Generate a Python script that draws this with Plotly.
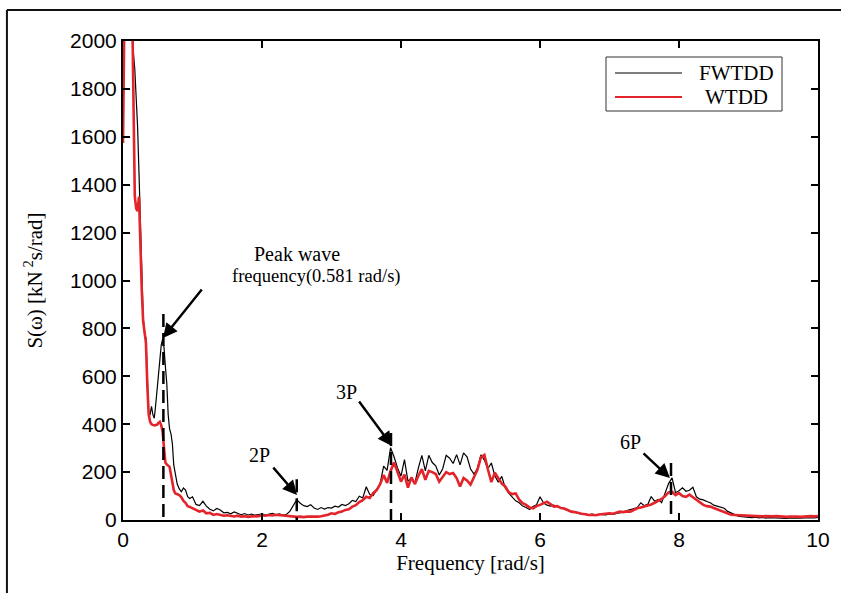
import plotly.graph_objects as go

# Frequency samples [rad/s]
freq = [
    0.00, 0.03, 0.06, 0.10, 0.13, 0.15, 0.17, 0.19, 0.21, 0.23, 0.25, 0.27, 0.29, 0.31, 0.33,
    0.35, 0.37, 0.39, 0.41, 0.43, 0.45, 0.47, 0.49, 0.51, 0.53, 0.55, 0.57, 0.59, 0.61, 0.63,
    0.65, 0.67, 0.69, 0.71, 0.73, 0.75, 0.78, 0.81, 0.84, 0.87, 0.90, 0.93, 0.96, 1.00,
    1.05, 1.10, 1.15, 1.20, 1.25, 1.30, 1.35, 1.40, 1.45, 1.50, 1.55, 1.60, 1.65, 1.70, 1.75, 1.80, 1.85, 1.90, 1.95, 2.00,
    2.05, 2.10, 2.15, 2.20, 2.25, 2.30, 2.35, 2.40, 2.45, 2.50, 2.55, 2.60, 2.65, 2.70, 2.75, 2.80, 2.85, 2.90, 2.95, 3.00,
    3.05, 3.10, 3.15, 3.20, 3.25, 3.30, 3.35, 3.40, 3.45, 3.50, 3.55, 3.60, 3.65, 3.70, 3.75, 3.80, 3.85, 3.90, 3.95, 4.00,
    4.05, 4.10, 4.15, 4.20, 4.25, 4.30, 4.35, 4.40, 4.45, 4.50, 4.55, 4.60, 4.65, 4.70, 4.75, 4.80, 4.85, 4.90, 4.95, 5.00,
    5.05, 5.10, 5.15, 5.20, 5.25, 5.30, 5.35, 5.40, 5.45, 5.50, 5.55, 5.60, 5.65, 5.70, 5.75, 5.80, 5.85, 5.90, 5.95, 6.00,
    6.05, 6.10, 6.15, 6.20, 6.25, 6.30, 6.35, 6.40, 6.45, 6.50, 6.55, 6.60, 6.65, 6.70, 6.75, 6.80, 6.85, 6.90, 6.95, 7.00,
    7.05, 7.10, 7.15, 7.20, 7.25, 7.30, 7.35, 7.40, 7.45, 7.50, 7.55, 7.60, 7.65, 7.70, 7.75, 7.80, 7.85, 7.90, 7.95, 8.00,
    8.05, 8.10, 8.15, 8.20, 8.25, 8.30, 8.35, 8.40, 8.45, 8.50, 8.55, 8.60, 8.65, 8.70, 8.75, 8.80, 8.85, 8.90, 8.95, 9.00,
    9.05, 9.10, 9.15, 9.20, 9.25, 9.30, 9.35, 9.40, 9.45, 9.50, 9.55, 9.60, 9.65, 9.70, 9.75, 9.80, 9.85, 9.90, 9.95, 10.00,
]

# Spectral density S(w) [kN^2 s/rad] - FWTDD
s_fwtdd = [
    2600, 3500, 3800, 3000, 2300, 1950, 1880, 1780, 1640, 1450, 1250, 1050, 850, 780, 760,
    600, 430, 440, 475, 440, 425, 480, 545, 630, 680, 730, 755, 720, 640, 570,
    440, 380, 360, 320, 230, 190, 150, 130, 118, 134, 125, 97, 90, 97,
    65, 60, 78, 58, 45, 38, 48, 42, 30, 32, 26, 34, 28, 22, 27, 21, 25, 20, 23, 26,
    21, 25, 28, 22, 26, 21, 23, 36, 62, 85, 70, 60, 56, 64, 50, 44, 52, 46, 52, 50,
    58, 54, 65, 60, 68, 82, 77, 99, 92, 139, 106, 102, 127, 152, 225, 207, 302, 264, 217, 183,
    252, 162, 175, 155, 218, 270, 205, 270, 240, 226, 188, 214, 270, 258, 236, 273, 230, 280, 264, 214,
    192, 216, 272, 250, 214, 238, 185, 158, 182, 134, 112, 96, 80, 72, 58, 52, 44, 56, 64, 97,
    72, 62, 58, 62, 56, 50, 44, 40, 36, 34, 29, 23, 26, 22, 25, 21, 24, 22, 21, 25,
    23, 27, 29, 33, 39, 43, 46, 52, 72, 60, 65, 98, 78, 86, 72, 112, 152, 176, 114, 122,
    134, 120, 124, 137, 97, 87, 84, 77, 72, 62, 57, 53, 49, 36, 29, 23, 16, 14, 12, 11,
    10, 12, 9, 11, 8, 10, 9, 7, 9, 8, 7, 9, 8, 7, 8, 9, 8, 10, 9, 11,
]

# Spectral density S(w) [kN^2 s/rad] - WTDD
s_wtdd = [
    1574, 2500, 3200, 2800, 2200, 1700, 1350, 1300, 1290, 1350, 1100, 960, 830, 790, 740,
    560, 440, 410, 400, 397, 395, 397, 398, 405, 410, 395, 370, 300, 240, 232,
    228, 222, 190, 150, 125, 112, 108, 104, 95, 80, 72, 58, 55, 50,
    42, 35, 40, 28, 30, 21, 25, 21, 18, 20, 17, 15, 18, 14, 16, 13, 15, 14, 16, 20,
    18, 21, 19, 22, 20, 21, 18, 16, 14, 13, 14, 12, 14, 13, 15, 14, 16, 18, 22, 28,
    25, 32, 35, 42, 45, 56, 62, 75, 83, 97, 92, 112, 125, 150, 188, 155, 205, 240, 200, 160,
    190, 135, 178, 150, 185, 212, 168, 205, 200, 192, 160, 180, 200, 192, 196, 175, 140, 175, 165, 148,
    182, 210, 262, 272, 212, 158, 198, 172, 152, 140, 116, 108, 111, 85, 70, 63, 52, 49, 58, 63,
    70, 76, 66, 56, 58, 50, 48, 42, 35, 33, 28, 26, 24, 21, 22, 20, 23, 25, 24, 28,
    26, 32, 35, 33, 36, 35, 42, 49, 52, 56, 58, 65, 72, 80, 88, 100, 115, 118, 104, 112,
    100, 97, 106, 95, 83, 72, 63, 58, 56, 50, 45, 40, 35, 28, 22, 21, 20, 22, 21, 20,
    18, 16, 17, 15, 16, 14, 15, 16, 14, 15, 13, 14, 15, 14, 13, 15, 14, 16, 15, 17,
]

# Marked frequencies: x position and top of the dashed marker
marker_freq = [0.581, 2.50, 3.856, 7.885]
marker_top = [860, 170, 363, 238]

# Harmonic labels and arrow tip / tail positions (data units)
label_text = ["2P", "3P", "6P"]
label_pos = [(1.97, 271), (3.22, 534), (7.295, 326)]
arrow_tip = [(0.576, 760), (2.504, 104), (3.871, 309), (7.87, 175)]
arrow_tail = [(1.151, 969), (2.144, 225), (3.381, 501), (7.468, 284)]

series_names = ["FWTDD", "WTDD"]
series_colors = ["#000000", "#e3242b"]

SERIF = "Liberation Serif"
SANS = "Liberation Sans"

fig = go.Figure()
fig.add_trace(go.Scatter(x=freq, y=s_fwtdd, mode="lines", name=series_names[0],
                         line=dict(color=series_colors[0], width=1.2), showlegend=False))
fig.add_trace(go.Scatter(x=freq, y=s_wtdd, mode="lines", name=series_names[1],
                         line=dict(color=series_colors[1], width=2.6), showlegend=False))

shapes = []
for xf, yt in zip(marker_freq, marker_top):
    shapes.append(dict(type="line", xref="x", yref="y", x0=xf, x1=xf, y0=yt, y1=0,
                       line=dict(color="black", width=2.5, dash="13px,6px")))

# outer figure frame (top and left edges)
shapes.append(dict(type="line", xref="paper", yref="paper", x0=-0.167, x1=1.05,
                   y0=1.0647, y1=1.0647, line=dict(color="#111", width=2)))
shapes.append(dict(type="line", xref="paper", yref="paper", x0=-0.167, x1=-0.167,
                   y0=1.0647, y1=-0.2, line=dict(color="#111", width=2)))


def px_x(p):
    return (p - 123) / 695.0


def px_y(p):
    return (520 - p) / 479.0


# legend box
shapes.append(dict(type="rect", xref="paper", yref="paper", x0=px_x(606), x1=px_x(782),
                   y0=px_y(111), y1=px_y(57), line=dict(color="#333", width=1),
                   fillcolor="white", layer="above"))
legend_rows = [73, 97]
for row, col in zip(legend_rows, series_colors):
    shapes.append(dict(type="line", xref="paper", yref="paper", x0=px_x(615), x1=px_x(682),
                       y0=px_y(row), y1=px_y(row), layer="above",
                       line=dict(color=col, width=1.1 if col == "#000000" else 1.8)))

annotations = []
for row, name in zip(legend_rows, series_names):
    annotations.append(dict(xref="paper", yref="paper", x=px_x(736), y=px_y(row), text=name,
                            showarrow=False, xanchor="center", yanchor="middle",
                            font=dict(family=SERIF, size=21, color="black")))

annotations.append(dict(x=2.50, y=1111, text="Peak wave", showarrow=False,
                        font=dict(family=SERIF, size=20, color="black")))
annotations.append(dict(x=2.79, y=1015, text="frequency(0.581 rad/s)", showarrow=False,
                        font=dict(family=SERIF, size=18.5, color="black")))
for t, (lx, ly) in zip(label_text, label_pos):
    annotations.append(dict(x=lx, y=ly, text=t, showarrow=False,
                            font=dict(family=SERIF, size=20, color="black")))
for (tx, ty), (sx, sy) in zip(arrow_tip, arrow_tail):
    annotations.append(dict(x=tx, y=ty, ax=sx, ay=sy, axref="x", ayref="y", text="",
                            showarrow=True, arrowhead=2, arrowsize=1.2, arrowwidth=2.4,
                            arrowcolor="black", standoff=0))

axis_common = dict(showline=True, linecolor="black", linewidth=2, mirror="ticks",
                   ticks="inside", ticklen=7, tickwidth=2, tickcolor="black",
                   showgrid=False, zeroline=False,
                   tickfont=dict(family=SANS, size=21, color="black"))

fig.update_layout(
    width=841, height=593,
    margin=dict(l=123, r=23, t=41, b=73),
    paper_bgcolor="white", plot_bgcolor="white",
    shapes=shapes, annotations=annotations,
    xaxis=dict(range=[0, 10], dtick=2, tick0=0,
               title=dict(text="Frequency [rad/s]", font=dict(family=SERIF, size=21, color="black"),
                          standoff=4),
               **axis_common),
    yaxis=dict(range=[0, 2000], dtick=200, tick0=0,
               title=dict(text="S(ω) [kN<sup> 2</sup>s/rad]",
                          font=dict(family=SERIF, size=21, color="black"), standoff=22),
               **axis_common),
)

fig.write_html("out.html")
